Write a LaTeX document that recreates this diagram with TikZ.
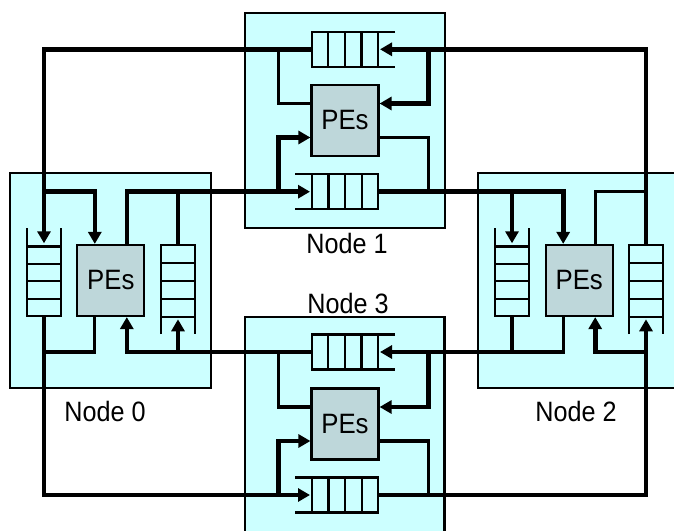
\documentclass[tikz,border=0pt]{standalone}
\usepackage{fontspec}
\setmainfont{Liberation Sans}
\usetikzlibrary{arrows.meta,calc}
\definecolor{nodebg}{RGB}{204,255,255}
\definecolor{pefill}{RGB}{190,215,218}
\begin{document}
\begin{tikzpicture}[x=1pt,y=-1pt,
  box/.style={draw=black, line width=2.2pt, fill=nodebg, inner sep=0pt, outer sep=0pt, anchor=north west},
  pe/.style={draw=black, line width=2.2pt, fill=pefill, minimum width=67pt, minimum height=71pt, inner sep=0pt,
    font=\fontsize{28}{28}\selectfont},
  qline/.style={draw=black, line width=2.2pt},
  bus/.style={line width=4.6pt, line join=miter},
  wire/.style={line width=3.3pt, line join=miter},
  arr/.style={-{Triangle[length=12pt,width=13pt]}},
  lbl/.style={anchor=base, font=\fontsize{28}{28}\selectfont, inner sep=0pt},
  hqR/.pic={% open to the right, closed end at origin
    \draw[qline] (83.3,-17.5) -- (0,-17.5) -- (0,17.5) -- (83.3,17.5);
    \foreach \q in {16.6,33.2,49.8,66.4} \draw[qline] (\q,-17.5) -- (\q,17.5);
    \coordinate (-out) at (0,0);
    \coordinate (-in) at (68.3,0);},
  hqL/.pic={% open to the left, closed end at origin
    \draw[qline] (-83.3,-17.5) -- (0,-17.5) -- (0,17.5) -- (-83.3,17.5);
    \foreach \q in {16.6,33.2,49.8,66.4} \draw[qline] (-\q,-17.5) -- (-\q,17.5);
    \coordinate (-out) at (0,0);
    \coordinate (-in) at (-68.3,0);},
  vqT/.pic={% open at the top, closed end at origin
    \draw[qline] (-17,-87.7) -- (-17,0) -- (17,0) -- (17,-87.7);
    \foreach \q in {17.4,34.8,52.2,69.6} \draw[qline] (-17,-\q) -- (17,-\q);
    \coordinate (-out) at (0,0);
    \coordinate (-in) at (0,-72.7);},
  vqB/.pic={% open at the bottom, closed end at origin
    \draw[qline] (-17,89) -- (-17,0) -- (17,0) -- (17,89);
    \foreach \q in {17.9,36.1,54.2,72.3} \draw[qline] (-17,\q) -- (17,\q);
    \coordinate (-out) at (0,0);
    \coordinate (-in) at (0,74.3);},
]
\useasboundingbox (0,0) rectangle (674,530);
\clip (0,0) rectangle (674,530);

% node boxes
\node[box, minimum width=200.7pt, minimum height=215pt] (n0box) at (10,173.3) {};
\node[box, minimum width=200pt, minimum height=214.7pt] (n1box) at (245,13.3) {};
\node[box, minimum width=230pt, minimum height=215pt] (n2box) at (478.3,173.3) {};
\node[box, minimum width=199.5pt, minimum height=240pt] (n3box) at (245,316.7) {};

% processing elements
\node[pe] (pe0) at (110.8,280.5) {\scalebox{0.92}[1]{PEs}};
\node[pe] (pe1) at (345,120.5) {\scalebox{0.92}[1]{PEs}};
\node[pe] (pe2) at (579.2,280.5) {\scalebox{0.92}[1]{PEs}};
\node[pe] (pe3) at (345,424) {\scalebox{0.92}[1]{PEs}};

% queues
\pic (q0l) at (44,316) {vqT};
\pic (q0r) at (178,245) {vqB};
\pic (q1t) at (311.7,49.3) {hqR};
\pic (q1b) at (378.3,191.7) {hqL};
\pic (q2l) at (512,316) {vqT};
\pic (q2r) at (646,245) {vqB};
\pic (q3t) at (311.7,352) {hqR};
\pic (q3b) at (378.3,495) {hqL};

% junction points
\coordinate (a1) at (646,191.7);
\coordinate (a3) at (428.3,49.3);
\coordinate (b1) at (278.3,49.3);
\coordinate (b3) at (44,191.7);
\coordinate (c2) at (178,191.7);
\coordinate (c3) at (278.3,191.7);
\coordinate (d1) at (512,191.7);
\coordinate (d2) at (428.3,191.7);
\coordinate (e1) at (512,352);
\coordinate (e2) at (428.3,352);
\coordinate (f1) at (278.3,352);
\coordinate (f2) at (178,352);
\coordinate (g1) at (44,352);
\coordinate (g2) at (278.3,495);
\coordinate (h1) at (428.3,495);
\coordinate (h2) at (646,352);

% Node 2 -> Node 1 (top queue)
\draw[bus,arr] (q2r-out) |- (q1t-in);
\draw[wire] ($(pe2.north)+(16,0)$) |- (a1);
\draw[bus,arr] (a3) |- ($(pe1.east)+(0,-17)$);

% Node 1 -> Node 0
\draw[bus,arr] (q1t-out) -| (q0l-in);
\draw[wire] ($(pe1.west)+(0,-17)$) -| (b1);
\draw[bus,arr] (b3) -| ($(pe0.north)+(-16,0)$);

% Node 0 -> Node 1 (bottom queue)
\draw[bus,arr] ($(pe0.north)+(16,0)$) |- (q1b-in);
\draw[wire] (q0r-out) -- (c2);
\draw[bus,arr] (c3) |- ($(pe1.west)+(0,17)$);

% Node 1 -> Node 2
\draw[bus,arr] (q1b-out) -| ($(pe2.north)+(-16,0)$);
\draw[bus,arr] (d1) -- (q2l-in);
\draw[wire] ($(pe1.east)+(0,17)$) -| (d2);

% Node 2 -> Node 3 (top queue)
\draw[bus,arr] (q2l-out) |- (q3t-in);
\draw[wire] ($(pe2.south)+(-16,0)$) |- (e1);
\draw[bus,arr] (e2) |- ($(pe3.east)+(0,-17)$);

% Node 3 -> Node 0
\draw[bus,arr] (q3t-out) -| ($(pe0.south)+(16,0)$);
\draw[bus,arr] (f2) -- (q0r-in);
\draw[wire] ($(pe3.west)+(0,-17)$) -| (f1);

% Node 0 -> Node 3 (bottom queue)
\draw[bus,arr] (q0l-out) |- (q3b-in);
\draw[wire] ($(pe0.south)+(-16,0)$) |- (g1);
\draw[bus,arr] (g2) |- ($(pe3.west)+(0,17)$);

% Node 3 -> Node 2
\draw[bus,arr] (q3b-out) -| (q2r-in);
\draw[wire] ($(pe3.east)+(0,17)$) -| (h1);
\draw[bus,arr] (h2) -| ($(pe2.south)+(16,0)$);

% labels
\node[lbl] (l0) at (105,421.7) {\scalebox{0.9}[1]{Node 0}};
\node[lbl] (l1) at (347,253.7) {\scalebox{0.9}[1]{Node 1}};
\node[lbl] (l2) at (576,421.7) {\scalebox{0.9}[1]{Node 2}};
\node[lbl] (l3) at (348,313.7) {\scalebox{0.9}[1]{Node 3}};
\end{tikzpicture}
\end{document}
